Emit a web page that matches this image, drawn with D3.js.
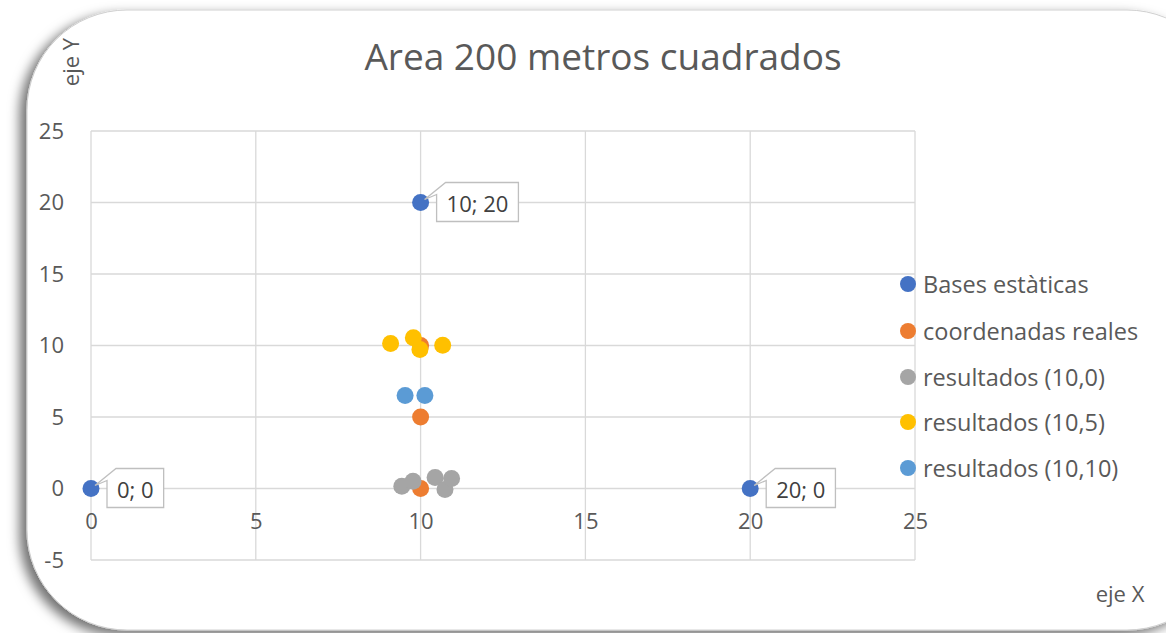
<!DOCTYPE html>
<html>
<head>
<meta charset="utf-8">
<script src="https://cdn.jsdelivr.net/npm/d3@7"></script>
<style>
  body { margin: 0; background: #fff; }
  svg text { font-family: "Open Sans", "Noto Sans", sans-serif; }
</style>
</head>
<body>
<svg id="chart" width="1166" height="633"></svg>
<script>
// series
const seriesNames = ["Bases estàticas", "coordenadas reales", "resultados (10,0)", "resultados (10,5)", "resultados (10,10)"];
const seriesColors = ["#4472C4", "#ED7D31", "#A5A5A5", "#FFC000", "#5B9BD5"];

const bases = [[0, 0], [10, 20], [20, 0]];
const reales = [[10, 0], [10, 5], [10, 10]];
const res10_0 = [[9.43, 0.16], [9.77, 0.51], [10.44, 0.77], [10.74, -0.07], [10.94, 0.7]];
const res10_5 = [[9.09, 10.14], [9.78, 10.54], [9.98, 9.72], [10.67, 10.02]];
const res10_10 = [[9.53, 6.5], [10.13, 6.5]];

const xTicks = [0, 5, 10, 15, 20, 25];
const yTicks = [-5, 0, 5, 10, 15, 20, 25];

const svg = d3.select("#chart");

// card with rounded corners and shadow
const defs = svg.append("defs");
const f = defs.append("filter").attr("id", "shadow")
  .attr("x", "-10%").attr("y", "-10%").attr("width", "120%").attr("height", "120%");
f.append("feDropShadow")
  .attr("dx", -7).attr("dy", 5).attr("stdDeviation", 6)
  .attr("flood-color", "#000").attr("flood-opacity", 0.55);

svg.append("rect")
  .attr("x", 27).attr("y", 10)
  .attr("width", 1200).attr("height", 620)
  .attr("rx", 100).attr("ry", 100)
  .attr("fill", "#fff")
  .attr("stroke", "#d0d0d0")
  .attr("filter", "url(#shadow)");

// scales
const x = d3.scaleLinear().domain([0, 25]).range([91, 915]);
const y = d3.scaleLinear().domain([-5, 25]).range([560, 131]);

// gridlines
const grid = svg.append("g").attr("stroke", "#d9d9d9").attr("stroke-width", 1.3);
grid.selectAll(".gx").data(xTicks).join("line")
  .attr("x1", d => x(d)).attr("x2", d => x(d))
  .attr("y1", y(25)).attr("y2", y(-5));
grid.selectAll(".gy").data(yTicks).join("line")
  .attr("x1", x(0)).attr("x2", x(25))
  .attr("y1", d => y(d)).attr("y2", d => y(d));

// axis labels (x axis crosses at y = 0)
const xAxis = d3.axisBottom(x).tickValues(xTicks).tickSize(0).tickPadding(40).tickFormat(d => String(d));
svg.append("g")
  .attr("transform", `translate(0,${y(0)})`)
  .call(xAxis)
  .call(g => g.select(".domain").remove())
  .call(g => g.selectAll("text").attr("fill", "#595959").style("font-size", "22px").attr("dy", "0"));

const yAxis = d3.axisLeft(y).tickValues(yTicks).tickSize(0).tickPadding(27).tickFormat(d => String(d));
svg.append("g")
  .attr("transform", `translate(${x(0)},0)`)
  .call(yAxis)
  .call(g => g.select(".domain").remove())
  .call(g => g.selectAll("text").attr("fill", "#595959").style("font-size", "22px"));

// points, in Excel series order
const allSeries = [bases, reales, res10_0, res10_5, res10_10];
allSeries.forEach((s, i) => {
  svg.append("g").selectAll("circle").data(s).join("circle")
    .attr("cx", d => x(d[0]))
    .attr("cy", d => y(d[1]))
    .attr("r", 8.5)
    .attr("fill", seriesColors[i]);
});

// data labels for the bases
const lab = svg.append("g").selectAll("g").data(bases).join("g")
  .attr("transform", d => `translate(${x(d[0])},${y(d[1])})`);
lab.each(function(d) {
  const g = d3.select(this);
  const t = g.append("text")
    .attr("fill", "#404040").style("font-size", "22px")
    .attr("dominant-baseline", "central")
    .text(d[0] + "; " + d[1]);
  const w = t.node().getComputedTextLength() + 20;
  const bx = 16, by = -20, h = 39;
  g.insert("path", "text")
    .attr("d", `M${bx},${by + 12} L4,-3 L${bx + 9},${by} L${bx + w},${by} L${bx + w},${by + h} L${bx},${by + h} Z`)
    .attr("fill", "#fff").attr("stroke", "#bfbfbf").attr("stroke-width", 1.3);
  t.attr("x", bx + 10).attr("y", 0);
});

// title and axis titles
svg.append("text")
  .attr("x", 603).attr("y", 55)
  .attr("text-anchor", "middle").attr("dominant-baseline", "central")
  .attr("fill", "#595959").style("font-size", "37px")
  .text("Area 200 metros cuadrados");

svg.append("text")
  .attr("transform", "translate(70,62) rotate(-90)")
  .attr("text-anchor", "middle").attr("dominant-baseline", "central")
  .attr("fill", "#595959").style("font-size", "22px")
  .text("eje Y");

svg.append("text")
  .attr("x", 1120).attr("y", 593)
  .attr("text-anchor", "middle").attr("dominant-baseline", "central")
  .attr("fill", "#595959").style("font-size", "22px")
  .text("eje X");

// legend
const legY = [284, 331, 377, 422, 468];
const leg = svg.append("g").selectAll("g").data(seriesNames).join("g")
  .attr("transform", (d, i) => `translate(908,${legY[i]})`);
leg.append("circle").attr("r", 8).attr("fill", (d, i) => seriesColors[i]);
leg.append("text")
  .attr("x", 15).attr("dominant-baseline", "central")
  .attr("fill", "#595959").style("font-size", "23.5px")
  .text(d => d);
</script>
</body>
</html>
